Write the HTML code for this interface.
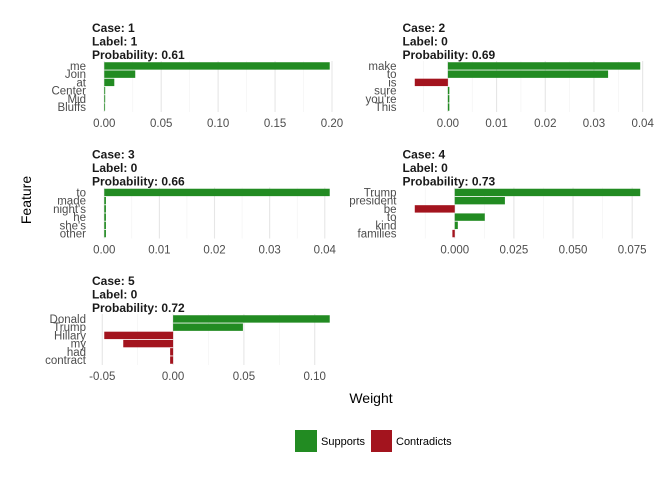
<!DOCTYPE html>
<html><head><meta charset="utf-8"><style>
body{margin:0;background:#fff;}
svg text{font-family:"Liberation Sans",Arial,sans-serif;}
</style></head><body>
<svg id="chart" width="672" height="480" xmlns="http://www.w3.org/2000/svg">
<rect width="672" height="480" fill="#fff"/>
<text x="31" y="200" font-size="14" fill="#000" text-anchor="middle" transform="rotate(-90 31 200)">Feature</text>
<text x="371" y="403" font-size="14" fill="#000" text-anchor="middle">Weight</text>
<g>
<rect x="295" y="430" width="22" height="22" fill="#228b22"/>
<text x="321" y="445" font-size="11" fill="#000">Supports</text>
<rect x="371" y="430" width="21" height="22" fill="#a3141e"/>
<text x="396" y="445" font-size="11" fill="#000">Contradicts</text>
</g>
</svg>
<script>
const cases = ["1","2","3","4","5"];
const labels = ["1","0","0","0","0"];
const probs = ["0.61","0.69","0.66","0.73","0.72"];
const features1 = ["me","Join","at","Center","Mid","Bluffs"];
const weights1 = [0.198,0.0272,0.0088,0.0008,0.0008,0.0004];
const features2 = ["make","to","is","sure","you're","This"];
const weights2 = [0.0395,0.0329,-0.0068,0.0003,0.0003,0.0003];
const features3 = ["to","made","night's","he","she's","other"];
const weights3 = [0.0409,0.0003,0.0003,0.0003,0.0003,0.0003];
const features4 = ["Trump","president","be","to","kind","families"];
const weights4 = [0.0784,0.0212,-0.0169,0.0127,0.0013,-0.001];
const features5 = ["Donald","Trump","Hillary","my","had","contract"];
const weights5 = [0.1106,0.0493,-0.0486,-0.0352,-0.0021,-0.0021];
const ticks1 = [0,0.05,0.1,0.15,0.2];
const tickLabels1 = ["0.00","0.05","0.10","0.15","0.20"];
const ticks2 = [0,0.01,0.02,0.03,0.04];
const tickLabels2 = ["0.00","0.01","0.02","0.03","0.04"];
const ticks3 = [0,0.01,0.02,0.03,0.04];
const tickLabels3 = ["0.00","0.01","0.02","0.03","0.04"];
const ticks4 = [0,0.025,0.05,0.075];
const tickLabels4 = ["0.000","0.025","0.050","0.075"];
const ticks5 = [-0.05,0,0.05,0.1];
const tickLabels5 = ["-0.05","0.00","0.05","0.10"];

const NS="http://www.w3.org/2000/svg";
const svg=document.getElementById('chart');
function mk(tag,attrs,parent){const e=document.createElementNS(NS,tag);for(const k in attrs)e.setAttribute(k,attrs[k]);(parent||svg).appendChild(e);return e;}
const panels=[
 {f:features1,w:weights1,t:ticks1,tl:tickLabels1,x0:93,y0:61},
 {f:features2,w:weights2,t:ticks2,tl:tickLabels2,x0:403.5,y0:61},
 {f:features3,w:weights3,t:ticks3,tl:tickLabels3,x0:93,y0:187.5},
 {f:features4,w:weights4,t:ticks4,tl:tickLabels4,x0:403.5,y0:187.5},
 {f:features5,w:weights5,t:ticks5,tl:tickLabels5,x0:93,y0:314}
];
const PW=248, PH=51;
panels.forEach((p,i)=>{
 const g=mk('g',{});
 
 
 const mn=Math.min(0,...p.w), mx=Math.max(0,...p.w), pad=(mx-mn)*0.05;
 const lo=mn-pad, hi=mx+pad;
 const xs=v=>p.x0+(v-lo)/(hi-lo)*PW;
 const n=p.f.length, unit=PH/(n-1+1.2);
 const ys=k=>p.y0+(0.6+k)*unit;
 // minor grid
 const step=p.t[1]-p.t[0];
 for(let v=p.t[0]-step/2; v<=hi; v+=step){
  if(v<lo) continue;
  const l=mk('line',{x1:xs(v),x2:xs(v),y1:p.y0,y2:p.y0+PH,stroke:'#f2f2f2','stroke-width':0.6},g);
  
  
 }
 p.t.forEach((v,j)=>{
  const l=mk('line',{x1:xs(v),x2:xs(v),y1:p.y0,y2:p.y0+PH,stroke:'#e6e6e6','stroke-width':1.1},g);
  
  
  const t=mk('text',{x:xs(v),y:p.y0+PH+15,'font-size':11.5,fill:'#4d4d4d','text-anchor':'middle'},g);
  t.textContent=p.tl[j];
  
  
 });
 p.w.forEach((v,k)=>{
  const bh=unit*0.9;
  const x1=xs(Math.min(0,v)), x2=xs(Math.max(0,v));
  const r=mk('rect',{x:x1,y:ys(k)-bh/2,width:Math.max(x2-x1,0.8),height:bh,fill:v>=0?'#228b22':'#a3141e'},g);
  
  
  const t=mk('text',{x:p.x0-7,y:ys(k)+4,'font-size':11.5,fill:'#4d4d4d','text-anchor':'end'},g);
  t.textContent=p.f[k];
  
  
 });
 const tl=["Case: "+cases[i],"Label: "+labels[i],"Probability: "+probs[i]];
 tl.forEach((s,j)=>{
  const t=mk('text',{x:p.x0-1,y:p.y0-29+j*13.5,'font-size':12,'font-weight':'bold',fill:'#1a1a1a'},g);
  t.textContent=s;
  
  
 });
});
</script>
</body></html>
